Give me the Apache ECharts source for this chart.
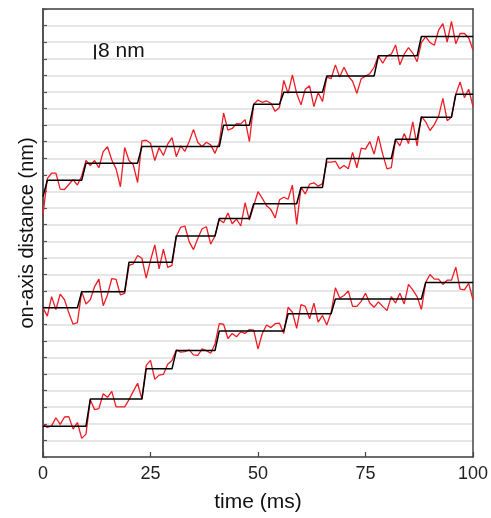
<!DOCTYPE html>
<html><head><meta charset="utf-8">
<script src="https://cdn.jsdelivr.net/npm/echarts@6/dist/echarts.min.js"></script>
<style>html,body{margin:0;padding:0;background:#fff}#c{width:491px;height:518px}</style>
</head><body><div id="c"></div>
<script>
// time axis (ms) and tick labels
var xTicks = [0, 25, 50, 75, 100];
// raw traces, sampled every 1 ms from 0 to 100 ms (on-axis distance, nm)
var topTrace = [131.5,151.0,154.0,154.0,145.3,145.1,147.8,150.5,147.5,152.4,
160.8,158.1,160.8,156.9,165.6,168.3,161.1,156.3,146.6,167.9,
160.8,158.5,148.9,171.5,171.8,170.2,160.8,167.9,163.5,169.7,
173.2,162.9,168.8,165.8,171.1,177.7,170.6,168.4,170.7,169.3,
164.7,170.6,186.6,177.3,178.2,180.8,180.7,183.0,171.1,191.3,
193.6,192.4,193.1,191.9,187.5,189.6,204.3,197.2,207.3,197.2,
191.0,199.5,201.3,190.1,197.7,192.8,206.1,205.2,212.7,206.1,
211.4,206.6,203.8,197.2,205.2,206.6,207.9,211.4,217.6,213.6,
217.6,218.5,223.5,212.7,218.5,222.1,219.1,214.4,224.8,228.0,
224.8,223.3,231.5,235.1,225.1,236.3,224.2,229.7,229.7,227.4,
220.8];
var midTrace = [80.9,76.4,87.0,80.0,88.3,85.3,78.2,72.0,72.9,89.7,
83.0,85.3,92.4,96.5,82.1,87.9,96.8,96.3,87.9,88.8,
103.9,104.8,109.3,107.8,97.0,106.6,115.1,102.0,112.8,102.9,
103.9,119.7,124.5,125.3,116.7,112.5,118.5,123.8,124.9,115.5,
119.9,128.8,127.0,132.3,126.5,129.1,125.3,137.9,128.5,136.3,
143.9,140.3,136.3,134.2,129.7,139.5,140.9,139.8,147.5,126.2,
146.2,142.7,148.0,148.7,146.9,148.3,159.9,159.9,160.4,156.3,
158.1,156.3,165.2,156.9,167.5,167.0,171.1,164.3,174.1,164.3,
156.3,156.9,172.3,168.8,175.4,170.0,181.8,168.8,184.8,181.8,
177.1,180.3,184.8,194.5,182.4,184.3,196.7,203.4,194.9,199.5,
190.1];
var botTrace = [17.7,16.0,16.9,21.3,17.7,21.7,21.9,15.1,18.7,10.1,
12.4,31.1,25.7,26.3,34.3,32.4,35.6,27.2,27.2,27.2,
31.1,35.6,40.0,31.4,49.7,52.4,42.1,44.4,44.8,50.3,
52.4,58.1,56.9,57.2,58.1,55.4,55.1,58.6,57.7,56.3,
61.3,72.3,72.0,64.3,67.0,65.2,67.9,67.0,69.1,68.8,
58.6,67.0,71.6,70.2,72.3,72.6,67.0,81.2,78.5,69.8,
82.6,81.7,75.0,83.5,73.2,76.8,71.6,78.2,91.8,86.2,
87.6,90.1,81.7,81.7,84.4,88.8,83.5,81.2,84.1,81.7,
79.4,87.0,83.5,88.8,83.0,93.6,90.6,87.0,80.0,94.7,
99.0,96.5,96.5,93.6,95.9,95.9,103.0,91.1,90.6,94.2,
85.3];
// fitted steps: [time ms, level nm]
var topSteps = [[0,141.2],[1,150.1],[9,150.1],[10,159.4],[22,159.4],[23,168.4],[41,168.4],[42,180.0],[48,180.0],[49,191.3],[55,191.3],[56,197.9],[65,197.9],[66,206.6],[77,206.6],[78,217.6],[87,217.6],[88,228.1],[100,228.1]];
var midSteps = [[0,80.9],[8,80.9],[9,89.7],[19,89.7],[20,105.7],[30,105.7],[31,119.9],[40,119.9],[41,129.4],[48,129.4],[49,137.4],[59,137.4],[60,146.2],[65,146.2],[66,161.9],[81,161.9],[82,172.3],[87,172.3],[88,184.3],[95,184.3],[96,196.7],[100,196.7]];
var botSteps = [[0,16.7],[10,16.7],[11,31.4],[23,31.4],[24,47.8],[30,47.8],[31,57.7],[40,57.7],[41,68.4],[56,68.4],[57,77.7],[67,77.7],[68,85.7],[88,85.7],[89,94.7],[100,94.7]];
// scale bar: 8 nm
var scaleBar = [[12.1,215.7],[12.1,223.7]];
var scaleLabel = '8 nm';

function toXY(arr){ return arr.map(function(v,i){ return [i, v]; }); }
var FONT = 'Liberation Sans, Arial, Helvetica, sans-serif';
var chart = echarts.init(document.getElementById('c'), null, {renderer:'canvas'});
var red = '#ee1c25';
function rawSeries(d){ return {type:'line', data:toXY(d), showSymbol:false, symbol:'none', lineStyle:{color:red, width:1.3}, z:2, animation:false}; }
function stepSeries(d){ return {type:'line', data:d, showSymbol:false, symbol:'none', lineStyle:{color:'#000', width:1.5}, z:3, animation:false}; }
chart.setOption({
  animation:false,
  grid:{left:43, right:16, top:9, bottom:53, show:false},
  xAxis:[{type:'value', min:0, max:100, interval:25,
    name:'time (ms)', nameLocation:'middle', nameGap:35,
    nameTextStyle:{fontSize:21, color:'#111', fontFamily:FONT},
    axisLine:{show:true, onZero:false, lineStyle:{color:'#444', width:1.5}},
    axisTick:{show:true, inside:true, length:5, lineStyle:{color:'#444', width:1.2}},
    axisLabel:{fontSize:18, color:'#222', fontFamily:FONT, margin:8,
      formatter:function(v){ return xTicks.indexOf(v) >= 0 ? String(v) : ''; }},
    splitLine:{show:false}},
    {type:'value', position:'top', min:0, max:100, axisLine:{show:true, onZero:false, lineStyle:{color:'#444', width:1.5}}, axisTick:{show:false}, axisLabel:{show:false}, splitLine:{show:false}}],
  yAxis:[{type:'value', min:0, max:243, interval:9,
    name:'on-axis distance (nm)', nameLocation:'middle', nameGap:6,
    nameTextStyle:{fontSize:20, color:'#111', fontFamily:FONT},
    axisLine:{show:true, onZero:false, lineStyle:{color:'#555', width:2}},
    axisTick:{show:true, inside:true, length:4, lineStyle:{color:'#555', width:1.2}},
    axisLabel:{show:false},
    splitLine:{show:true, lineStyle:{color:'#dedede', width:1.5}}},
    {type:'value', position:'right', min:0, max:243, axisLine:{show:true, onZero:false, lineStyle:{color:'#444', width:1.5}}, axisTick:{show:false}, axisLabel:{show:false}, splitLine:{show:false}}],
  series:[
    rawSeries(topTrace), rawSeries(midTrace), rawSeries(botTrace),
    stepSeries(topSteps), stepSeries(midSteps), stepSeries(botSteps),
    {type:'line', data:scaleBar, showSymbol:false, symbol:'none', lineStyle:{color:'#222', width:2}, z:4,
      endLabel:{show:true, formatter:scaleLabel, fontSize:21, color:'#111', fontFamily:FONT, distance:3, offset:[0,7]}}
  ]
});
</script></body></html>
